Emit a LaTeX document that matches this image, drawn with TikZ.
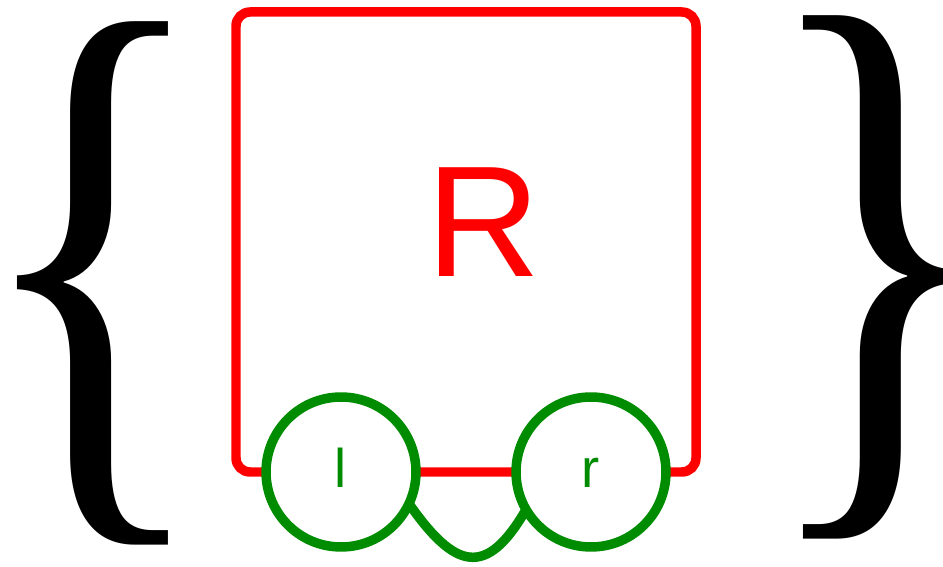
\documentclass[tikz,border=0pt]{standalone}
\usepackage{fontspec}
\newfontfamily\labelfont{Liberation Sans}
\newfontfamily\bracefont{Liberation Serif}
\definecolor{portgreen}{RGB}{0,140,0}

\begin{document}
\begin{tikzpicture}[x=0.02cm, y=0.02cm,
  box/.style={draw=red, line width=5.4pt, rounded corners=8pt},
  port/.style={circle, draw=portgreen, fill=white, line width=5.4pt, minimum size=3cm, outer sep=0pt, text=portgreen, font=\labelfont\fontsize{31}{31}\selectfont, text height=18pt, text depth=0pt},
  tag/.style={text=red, font=\labelfont\fontsize{90}{90}\selectfont, inner sep=0pt},
  brace/.style={font=\bracefont\fontsize{360}{360}\selectfont, inner sep=0pt, transform shape, xscale=0.8},
  link/.style={draw=portgreen, line width=5.4pt}
]
  \useasboundingbox (0,0) rectangle (943,567);
  \draw[box] (236,95) rectangle (696,555);
  \node[tag]   (rel) at (484,345) {R};
  \node[port]  (l)   at (341,95)  {l};
  \node[port]  (r)   at (591,95)  {r};
  \node[brace] (lb)  at (93,284)  {\{};
  \node[brace] (rb)  at (879,290) {\}};

  \draw[link] (l.-25) .. controls +(-55:80) and +(-120:80) .. (r.-150);
\end{tikzpicture}
\end{document}
